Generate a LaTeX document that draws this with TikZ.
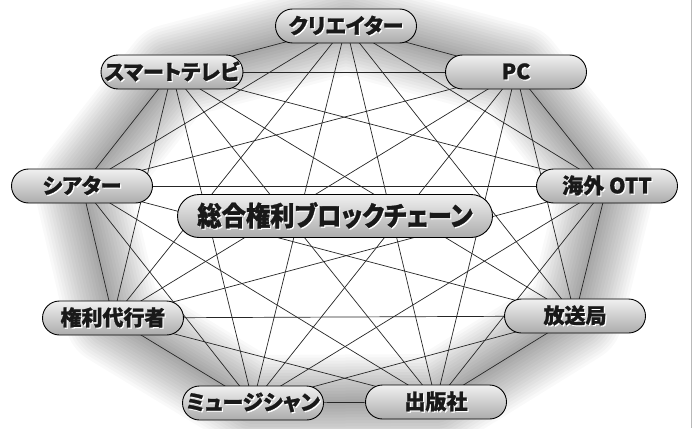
\documentclass[tikz,border=0pt]{standalone}
\usepackage{fontspec}
\usepackage{graphicx}
\newfontfamily\jp{Noto Sans CJK JP}[RawFeature=+palt, BoldFeatures={FakeBold=1.2}]
\usetikzlibrary{shapes.misc}
\pgfdeclarelayer{glowlayer}
\pgfdeclarelayer{edgelayer}
\pgfsetlayers{glowlayer,edgelayer,main}
\newcommand\shtext[1]{\makebox[0pt][l]{\hspace{1.2pt}\raisebox{-1.2pt}{\color{white}#1}}#1}
\tikzset{
 pill/.style={rounded rectangle, draw=black, line width=0.9pt, top color=gray!12, bottom color=gray!65,
   minimum width=141pt, minimum height=34pt, inner sep=0pt,
   font=\jp\bfseries\fontsize{21}{21}\selectfont, text=black!90},
 bigpill/.style={pill, minimum width=315pt, minimum height=43pt, font=\jp\bfseries\fontsize{27}{27}\selectfont},
 link/.style={line width=0.7pt, black!85},
 glowline/.style={black, opacity=0.022, line join=round}
}
\begin{document}
\begin{tikzpicture}[x=1pt,y=-1pt]
\begin{pgfonlayer}{glowlayer}
\fill[white] (0,0) rectangle (698,428);
\end{pgfonlayer}
\useasboundingbox (0,0) rectangle (698,428);
\draw[gray!55, line width=0.8pt] (691,0) -- (691,428);
\node[pill] (cr) at (346,26) {\shtext{クリエイター}};
\node[pill] (pc) at (516,72) {\shtext{PC}};
\node[pill] (ott) at (607,186) {\shtext{海外 OTT}};
\node[pill] (bc) at (575,316) {\shtext{放送局}};
\node[pill] (pub) at (436,402) {\shtext{出版社}};
\node[pill] (mu) at (253,403) {\shtext{ミュージシャン}};
\node[pill] (ag) at (113,318) {\shtext{権利代行者}};
\node[pill] (th) at (82,186) {\shtext{シアター}};
\node[pill] (tv) at (172,72) {\shtext{スマートテレビ}};
\node[bigpill] (chain) at (335,216) {\scalebox{0.9}[1]{\shtext{総合権利ブロックチェーン}}};
\begin{pgfonlayer}{edgelayer}
\foreach \a [count=\i] in {cr,pc,ott,bc,pub,mu,ag,th,tv}{
  \foreach \b [count=\j] in {cr,pc,ott,bc,pub,mu,ag,th,tv}{
    \ifnum\j>\i \draw[link] (\a.center) -- (\b.center); \fi
  }
}
\end{pgfonlayer}
\begin{pgfonlayer}{glowlayer}
\foreach \w in {6,12,...,96}{
  \draw[glowline, line width=\w pt] (cr.center) -- (pc.center) -- (ott.center) -- (bc.center) -- (pub.center) -- (mu.center) -- (ag.center) -- (th.center) -- (tv.center) -- cycle;
}
\end{pgfonlayer}
\end{tikzpicture}
\end{document}
